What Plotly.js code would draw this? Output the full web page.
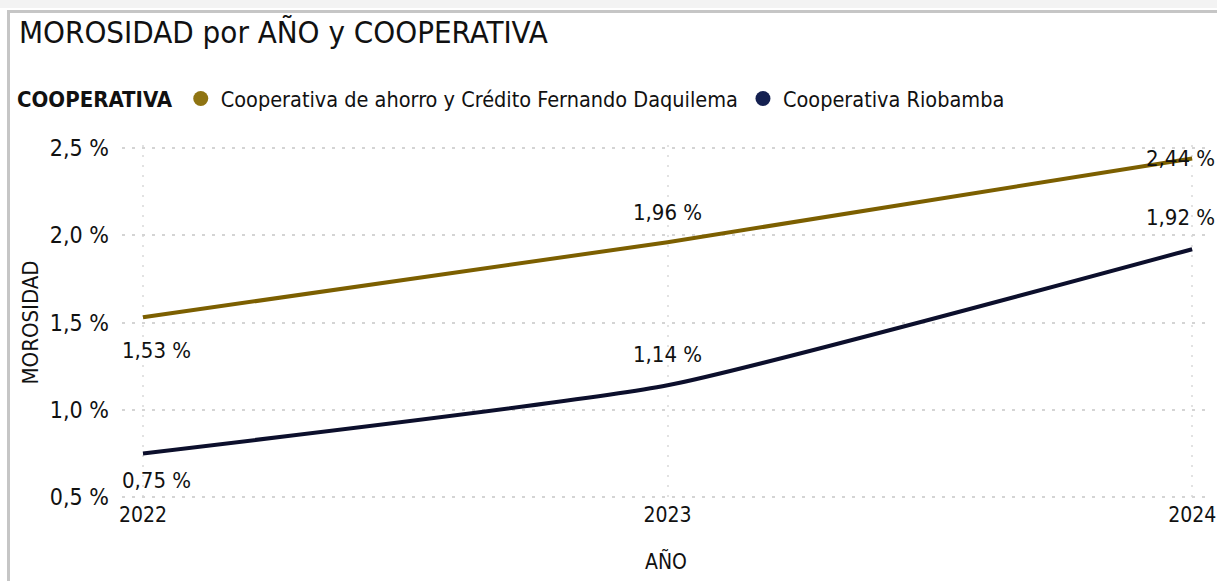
<!DOCTYPE html>
<html>
<head>
<meta charset="utf-8">
<script src="https://cdn.plot.ly/plotly-3.0.1.min.js"></script>
<style>
  html, body { margin: 0; padding: 0; background: #ffffff; }
  #wrap { position: relative; width: 1217px; height: 581px; overflow: hidden; }
  #chart { position: absolute; left: 0; top: 0; width: 1217px; height: 581px; }
  #frame { position: absolute; left: 7px; top: 10px; width: 1230px; height: 600px;
           border-left: 3px solid #c6c6c6; border-top: 3px solid #c6c6c6; pointer-events: none; }
  #topband { position: absolute; left: 0; top: 0; width: 1217px; height: 8px; background: #f3f3f3; }
</style>
</head>
<body>
<div id="wrap">
  <div id="topband"></div>
  <div id="chart"></div>
  <div id="frame"></div>
</div>
<script>
// ---- data ----
const years = [2022, 2023, 2024];
const yearLabels = ["2022", "2023", "2024"];
const seriesNames = ["Cooperativa de ahorro y Crédito Fernando Daquilema", "Cooperativa Riobamba"];
const daquilema = [1.53, 1.96, 2.44];
const riobamba = [0.75, 1.14, 1.92];
const yTickVals = [0.5, 1.0, 1.5, 2.0, 2.5];
const yTickText = ["0,5 %", "1,0 %", "1,5 %", "2,0 %", "2,5 %"];

// ---- styling ----
const FONT = "'DejaVu Sans Condensed', 'DejaVu Sans', sans-serif";
const colors = ["#7c5f00", "#0c0f2c"];
const legendColors = ["#8f7412", "#142050"];
const labelShift = [[-33, 30, 0], [-27, 31, 32]];
const labelXShift = [[14, 0, -12], [14, 0, -12]];

function fmt(v) { return v.toFixed(2).replace('.', ',') + ' %'; }

const allSeries = [daquilema, riobamba];
const traces = [];
allSeries.forEach((s, i) => {
  traces.push({
    x: years, y: s, type: 'scatter', mode: 'lines',
    line: { color: colors[i], width: 4, shape: 'spline', smoothing: 0.45 },
    showlegend: false, hoverinfo: 'skip', cliponaxis: false
  });
});
allSeries.forEach((s, i) => {
  traces.push({
    x: [null], y: [null], type: 'scatter', mode: 'markers',
    name: seriesNames[i],
    marker: { color: legendColors[i], size: 15, symbol: 'circle' },
    showlegend: true
  });
});

const annotations = [];
allSeries.forEach((s, i) => {
  s.forEach((v, j) => {
    annotations.push({
      x: years[j], y: v, xref: 'x', yref: 'y', text: fmt(v), showarrow: false,
      yshift: labelShift[i][j], xshift: labelXShift[i][j],
      font: { family: FONT, size: 22, color: '#111111' }
    });
  });
});

const layout = {
  width: 1217, height: 581,
  paper_bgcolor: 'rgba(0,0,0,0)', plot_bgcolor: 'rgba(0,0,0,0)',
  margin: { l: 122, r: 7, t: 145, b: 81 },
  font: { family: FONT, color: '#111111' },
  title: {
    text: 'MOROSIDAD por AÑO y COOPERATIVA',
    x: 0, xref: 'container', xanchor: 'left', y: 1, yref: 'container', yanchor: 'top',
    pad: { t: 21, l: 19 },
    font: { family: FONT, size: 31, color: '#111111' }
  },
  showlegend: true,
  legend: {
    orientation: 'h', x: 15 / 1217, xref: 'container', xanchor: 'left',
    y: 1 - 78 / 581, yref: 'container', yanchor: 'top',
    font: { family: FONT, size: 21.5, color: '#111111' },
    title: { text: '<b>COOPERATIVA</b>', font: { family: FONT, size: 22, color: '#111111' } },
    itemwidth: 30, traceorder: 'normal', bgcolor: 'rgba(0,0,0,0)'
  },
  xaxis: {
    range: [2021.96, 2024.034], tickmode: 'array', tickvals: years, ticktext: yearLabels,
    showgrid: true, gridcolor: '#e2e2e2', gridwidth: 2, griddash: '2px,8px',
    zeroline: false, showline: false, ticks: '', ticklabeloverflow: 'allow',
    tickfont: { family: FONT, size: 21, color: '#111111' },
    title: { text: 'AÑO', font: { family: FONT, size: 21, color: '#111111' }, standoff: 28 },
    fixedrange: true
  },
  yaxis: {
    range: [0.483, 2.517], tickmode: 'array', tickvals: yTickVals, ticktext: yTickText,
    showgrid: true, gridcolor: '#d4d4d4', gridwidth: 2, griddash: '3px,7px',
    zeroline: false, showline: false, ticks: '', ticklabelstandoff: 12,
    tickfont: { family: FONT, size: 23, color: '#111111' },
    title: { text: 'MOROSIDAD', font: { family: FONT, size: 22, color: '#111111' }, standoff: 5 },
    fixedrange: true
  },
  annotations: annotations
};

Plotly.newPlot('chart', traces, layout, { displayModeBar: false, staticPlot: true });
</script>
</body>
</html>
